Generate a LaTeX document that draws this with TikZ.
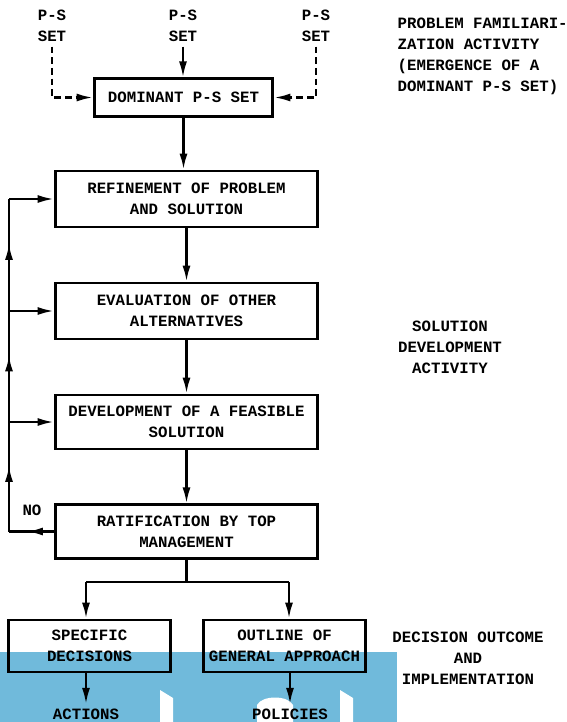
\documentclass[tikz,border=0pt]{standalone}
\usepackage{fontspec}
\setmonofont{Liberation Mono}
\usetikzlibrary{arrows.meta,decorations.markings}
\definecolor{bandblue}{RGB}{112,186,219}

\begin{document}
\begin{tikzpicture}[x=0.75pt,y=-0.75pt,
    every node/.style={font=\ttfamily\bfseries\fontsize{11.8}{15.75}\selectfont},
    stagebox/.style={draw,line width=2.2pt,align=center,inner sep=1pt,
        minimum width=197pt,minimum height=42pt},
    flow/.style={line width=1.7pt,-{Latex[length=12pt,width=6pt]}},
    feed/.style={line width=1.7pt,postaction={decorate},
        decoration={markings,mark=at position 0.6 with {\arrow{Latex[length=12pt,width=6pt]}}}}]
    \useasboundingbox (0,0) rectangle (567,722);
    % scan band at the bottom
    \fill[bandblue] (0,652) rectangle (397,722);
    \fill[white] (160,690) -- (173,698) -- (173,722) -- (160,722) -- cycle;
    \fill[white] (257,722) -- (257,705) .. controls (262,695) and (288,695) .. (293,705) -- (293,722) -- cycle;
    \fill[white] (340,690) -- (353,698) -- (353,722) -- (340,722) -- cycle;

    % problem familiarization
    \node[align=center] (psl) at (52,26) {P-S\\SET};
    \node[align=center] (psm) at (183,26) {P-S\\SET};
    \node[align=center] (psr) at (316,26) {P-S\\SET};
    \node[stagebox,minimum width=134pt,minimum height=28pt] (dom) at (183.5,97.5) {DOMINANT P-S SET};
    \draw[flow,dashed,dash pattern=on 5pt off 3pt] (psl.south) |- (dom.west);
    \draw[flow,dashed,dash pattern=on 5pt off 3pt] (psr.south) |- (dom.east);
    \draw[flow] (psm.south) -- (psm.south |- dom.north);
    \node[align=left,anchor=west] (famil) at (393,56.5)
        {PROBLEM FAMILIARI-\\ZATION ACTIVITY\\(EMERGENCE OF A\\DOMINANT P-S SET)};

    % solution development
    \node[stagebox] (ref) at (186.5,199) {REFINEMENT OF PROBLEM\\AND SOLUTION};
    \node[stagebox] (eval) at (186.5,311) {EVALUATION OF OTHER\\ALTERNATIVES};
    \node[stagebox,minimum height=40.5pt] (dev) at (186.5,422) {DEVELOPMENT OF A FEASIBLE\\SOLUTION};
    \node[stagebox,minimum height=40pt] (rat) at (186.5,531.5) {RATIFICATION BY TOP\\MANAGEMENT};
    \draw[flow] (dom.south) -- (dom.south |- ref.north);
    \draw[flow] (ref) -- (eval);
    \draw[flow] (eval) -- (dev);
    \draw[flow] (dev) -- (rat);
    \node[align=center] (soldev) at (450,347) {SOLUTION\\DEVELOPMENT\\ACTIVITY};

    % loop back
    \coordinate (lrat) at (9,531.5);
    \coordinate (ldev) at (9,422);
    \coordinate (leval) at (9,311);
    \coordinate (lref) at (9,199);
    \draw[feed] (rat.west) -- (lrat);
    \draw[feed] (lrat) -- (ldev);
    \draw[feed] (ldev) -- (leval);
    \draw[feed] (leval) -- (lref);
    \draw[flow] (lref) -- (ref.west);
    \draw[flow] (leval) -- (eval.west);
    \draw[flow] (ldev) -- (dev.west);
    \node (no) at (32,510) {NO};

    % decision outcome
    \node[stagebox,minimum width=121pt,minimum height=39pt] (spec) at (89.5,646) {SPECIFIC\\DECISIONS};
    \node[stagebox,minimum width=122pt,minimum height=39pt] (outl) at (284.5,646) {OUTLINE OF\\GENERAL APPROACH};
    \coordinate (split) at (186.5,582);
    \coordinate (sl) at (86,582);
    \coordinate (sr) at (289,582);
    \draw[line width=1.7pt] (rat.south) -- (split);
    \draw[line width=1.7pt] (sl) -- (sr);
    \draw[flow] (sl) -- (sl |- spec.north);
    \draw[flow] (sr) -- (sr |- outl.north);
    \node (act) at (86,714) {ACTIONS};
    \node (pol) at (290,714) {POLICIES};
    \draw[flow] (act |- spec.south) -- (act.north);
    \draw[flow] (pol |- outl.south) -- (pol.north);
    \node[align=center] (decout) at (468,658) {DECISION OUTCOME\\AND\\IMPLEMENTATION};
\end{tikzpicture}
\end{document}
